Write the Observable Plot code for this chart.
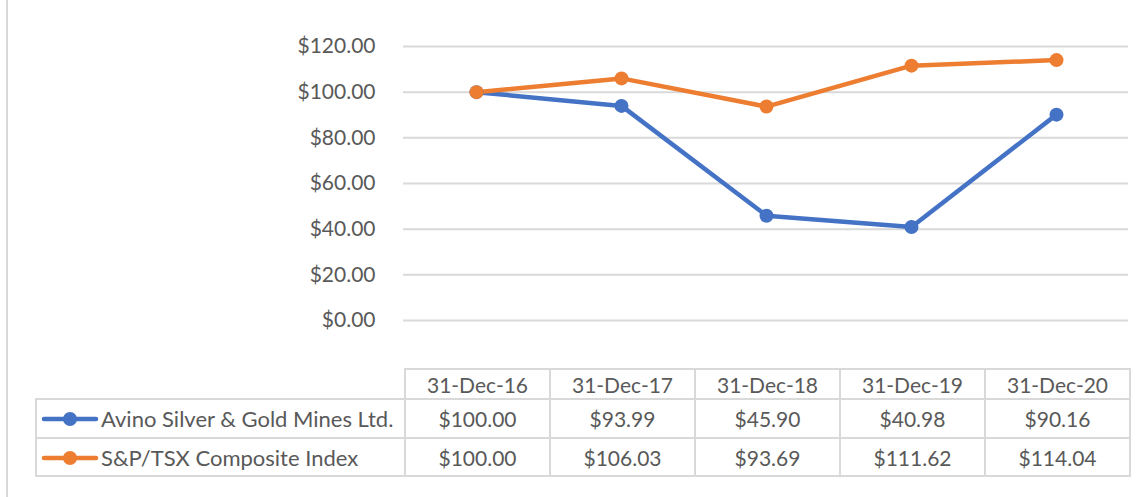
<!DOCTYPE html>
<html>
<head>
<meta charset="utf-8">
<script src="https://cdn.jsdelivr.net/npm/d3@7"></script>
<script src="https://cdn.jsdelivr.net/npm/@observablehq/plot@0.6"></script>
<style>
  html, body { margin: 0; padding: 0; background: #fff; }
  #wrap { position: relative; width: 1141px; height: 497px; overflow: hidden; font-family: Lato, "Open Sans", sans-serif; }
  #frame { position: absolute; left: 6px; top: 0; width: 2px; height: 497px; background: #D9D9D9; }
  #chart { position: absolute; left: 0; top: 0; }
  #tbl { position: absolute; left: 35px; top: 368px; width: 1094px; table-layout: fixed; border-collapse: collapse; font-family: Lato, sans-serif; font-size: 21px; color: #595959; }
  #tbl td, #tbl th { border: 2px solid #D9D9D9; padding: 0; font-weight: normal; text-align: center; white-space: nowrap; overflow: hidden; }
  #tbl th.empty { border-top: none; border-left: none; }
  #tbl td.lab { text-align: left; padding-left: 4px; font-size: 22px; }
  #tbl td.lab svg { vertical-align: middle; margin-right: 2px; position: relative; top: -2px; }
</style>
</head>
<body>
<div id="wrap">
  <div id="chart"></div>
  <div id="frame"></div>
  <table id="tbl"></table>
</div>
<script>
const dates = ["31-Dec-16", "31-Dec-17", "31-Dec-18", "31-Dec-19", "31-Dec-20"];
const seriesNames = ["Avino Silver & Gold Mines Ltd.", "S&P/TSX Composite Index"];
const avino = [100.00, 93.99, 45.90, 40.98, 90.16];
const tsx = [100.00, 106.03, 93.69, 111.62, 114.04];
const colors = ["#4472C4", "#ED7D31"];
const yTicks = [0, 20, 40, 60, 80, 100, 120];

const seriesValues = [avino, tsx];
const data = [];
seriesNames.forEach((s, i) => dates.forEach((d, j) => data.push({series: s, date: d, value: seriesValues[i][j]})));
const fmt = v => "$" + v.toFixed(2);

const chart = Plot.plot({
  width: 1141,
  height: 497,
  marginTop: 46,
  marginBottom: 177,
  marginLeft: 403,
  marginRight: 13,
  style: {fontFamily: "Lato, sans-serif", background: "transparent"},
  x: {type: "point", domain: dates, padding: 0.5, axis: null},
  y: {domain: [0, 120], axis: null},
  color: {domain: seriesNames, range: colors},
  marks: [
    Plot.gridY(yTicks, {stroke: "#D9D9D9", strokeOpacity: 1, strokeWidth: 2}),
    Plot.axisY(yTicks, {tickSize: 0, tickPadding: 28, tickFormat: fmt, fontSize: 21, fill: "#595959", label: null}),
    Plot.line(data, {x: "date", y: "value", z: "series", stroke: "series", strokeWidth: 4.5, strokeLinejoin: "round"}),
    Plot.dot(data, {x: "date", y: "value", fill: "series", r: 7})
  ]
});
document.getElementById("chart").appendChild(chart);

// data table under the chart
const tbl = document.getElementById("tbl");
let html = '<colgroup><col style="width:369px">' + dates.map(() => '<col style="width:145px">').join("") + '</colgroup>';
html += '<tr style="height:30px"><th class="empty"></th>' +
  dates.map(d => `<th>${d}</th>`).join("") + "</tr>";
seriesNames.forEach((s, i) => {
  const icon = `<svg width="58" height="14"><line x1="3" y1="7" x2="55" y2="7" stroke="${colors[i]}" stroke-width="4.5" stroke-linecap="round"/><circle cx="29" cy="7" r="7" fill="${colors[i]}"/></svg>`;
  const name = s.replace("&", "&amp;");
  html += `<tr style="height:${i === 0 ? 39 : 38}px"><td class="lab">${icon}${name}</td>` +
    seriesValues[i].map(v => `<td>${fmt(v)}</td>`).join("") + "</tr>";
});
tbl.innerHTML = html;
</script>
</body>
</html>
